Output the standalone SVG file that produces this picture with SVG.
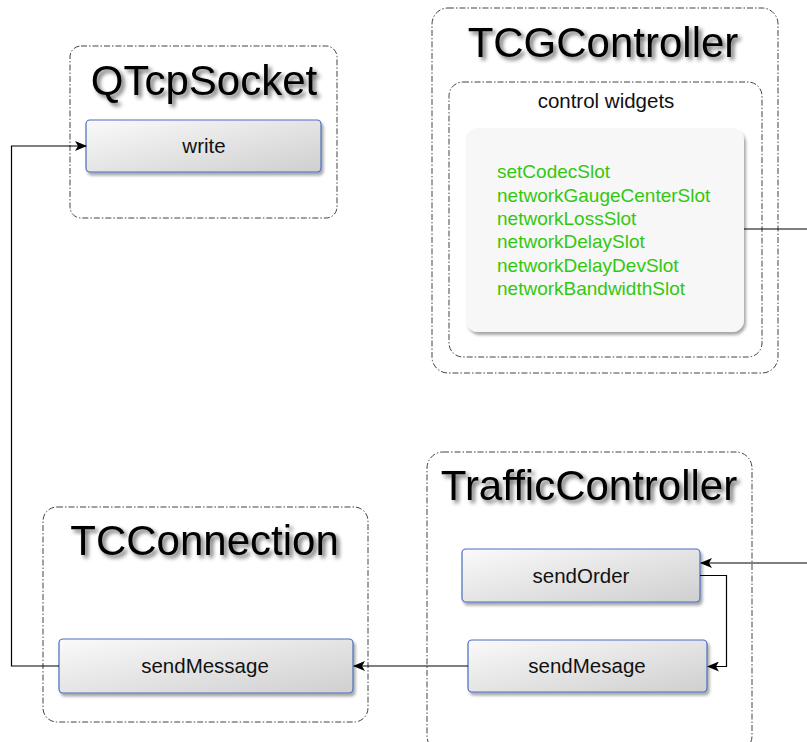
<svg xmlns="http://www.w3.org/2000/svg" width="807" height="742" viewBox="0 0 807 742">
  <defs>
    <linearGradient id="boxFill" x1="0" y1="0" x2="1" y2="1">
      <stop offset="0" stop-color="#fafafa"/>
      <stop offset="1" stop-color="#cfcfcf"/>
    </linearGradient>
    <!-- soft grey glow behind the big titles -->
    <filter id="titleGlow" x="-10%" y="-30%" width="120%" height="170%">
      <feGaussianBlur in="SourceAlpha" stdDeviation="2.2"/>
      <feOffset dx="3" dy="3"/>
      <feComponentTransfer><feFuncA type="linear" slope="0.6"/></feComponentTransfer>
      <feMerge><feMergeNode/><feMergeNode in="SourceGraphic"/></feMerge>
    </filter>
    <filter id="boxShadow" x="-10%" y="-20%" width="120%" height="150%">
      <feGaussianBlur in="SourceAlpha" stdDeviation="1.6"/>
      <feOffset dx="2" dy="2.5"/>
      <feComponentTransfer><feFuncA type="linear" slope="0.35"/></feComponentTransfer>
      <feMerge><feMergeNode/><feMergeNode in="SourceGraphic"/></feMerge>
    </filter>
    <marker id="arrow" viewBox="0 0 12 10" refX="11" refY="5" markerWidth="12" markerHeight="10" markerUnits="userSpaceOnUse" orient="auto">
      <path d="M0,0 L12,5 L0,10 L3,5 z" fill="#000"/>
    </marker>
  </defs>
  <style>
    .container { fill: #fff; stroke: #444; stroke-width: 1; stroke-dasharray: 6 2 1.5 2; }
    .title { font-family: "Liberation Sans", Arial, sans-serif; font-size: 42px; text-anchor: middle; fill: #000; filter: url(#titleGlow); }
    .method { fill: url(#boxFill); stroke: #4a6cc0; stroke-width: 1.2; filter: url(#boxShadow); }
    .label { font-family: "Liberation Sans", Arial, sans-serif; font-size: 20.5px; text-anchor: middle; fill: #111; }
    .slots { fill: #f7f7f7; stroke: none; filter: url(#boxShadow); }
    .slot { font-family: "Liberation Sans", Arial, sans-serif; font-size: 19px; fill: #33c80f; }
    .conn { fill: none; stroke: #000; stroke-width: 1.2; }
  </style>

  <rect width="807" height="742" fill="#fff"/>

  <!-- QTcpSocket -->
  <g id="qtcpsocket">
    <rect class="container" x="70" y="46" width="267" height="172" rx="11"/>
    <text class="title" x="204" y="95">QTcpSocket</text>
    <g id="qtcpsocket-write">
      <rect class="method" x="86" y="120" width="235" height="52" rx="4"/>
      <text class="label" x="204" y="153">write</text>
    </g>
  </g>

  <!-- TCGController -->
  <g id="tcgcontroller">
    <rect class="container" x="432" y="8" width="346" height="365" rx="16"/>
    <text class="title" x="603" y="57">TCGController</text>
    <g id="control-widgets">
      <rect class="container" x="449" y="82" width="313" height="275" rx="14"/>
      <text class="label" x="606" y="108">control widgets</text>
      <rect class="slots" x="466" y="128" width="278" height="204" rx="12"/>
      <text class="slot" x="497" y="178.3">setCodecSlot</text>
      <text class="slot" x="497" y="201.7">networkGaugeCenterSlot</text>
      <text class="slot" x="497" y="225">networkLossSlot</text>
      <text class="slot" x="497" y="248.3">networkDelaySlot</text>
      <text class="slot" x="497" y="271.7">networkDelayDevSlot</text>
      <text class="slot" x="497" y="295">networkBandwidthSlot</text>
    </g>
  </g>

  <!-- TrafficController -->
  <g id="trafficcontroller">
    <rect class="container" x="427" y="452" width="325" height="300" rx="16"/>
    <text class="title" x="589" y="500">TrafficController</text>
    <g id="trafficcontroller-sendorder">
      <rect class="method" x="462" y="549" width="238" height="53" rx="4"/>
      <text class="label" x="581" y="583">sendOrder</text>
    </g>
    <g id="trafficcontroller-sendmesage">
      <rect class="method" x="468" y="640" width="239" height="52" rx="4"/>
      <text class="label" x="587" y="673">sendMesage</text>
    </g>
  </g>

  <!-- TCConnection -->
  <g id="tcconnection">
    <rect class="container" x="43" y="507" width="325" height="215" rx="14"/>
    <text class="title" x="204.5" y="555">TCConnection</text>
    <g id="tcconnection-sendmessage">
      <rect class="method" x="59" y="639" width="294" height="54" rx="4"/>
      <text class="label" x="205" y="673">sendMessage</text>
    </g>
  </g>

  <!-- Connectors -->
  <g id="connectors">
    <path class="conn" d="M744,229 H807"/>
    <path class="conn" d="M807,563 H701" marker-end="url(#arrow)"/>
    <path class="conn" d="M700,575.5 H726.5 V666.5 H708" marker-end="url(#arrow)"/>
    <path class="conn" d="M468,666 H354" marker-end="url(#arrow)"/>
    <path class="conn" d="M59,666 H11.5 V146 H86" marker-end="url(#arrow)"/>
  </g>
</svg>
